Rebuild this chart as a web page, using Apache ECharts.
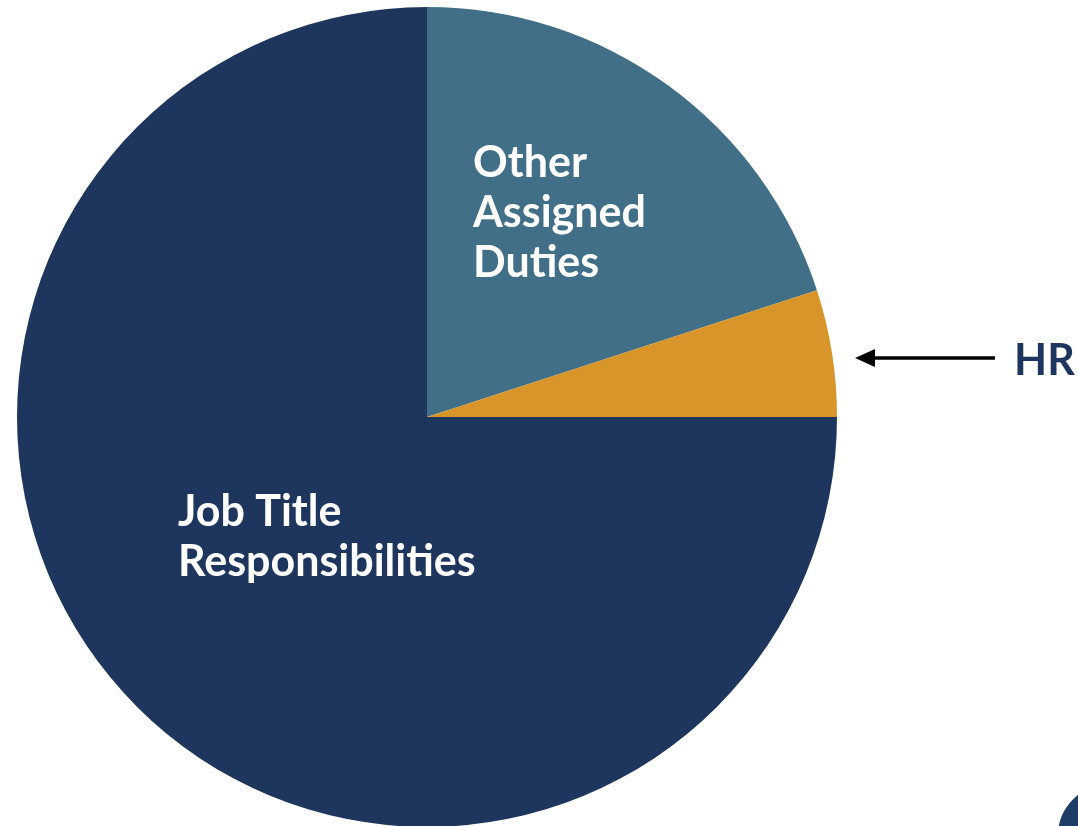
<!DOCTYPE html>
<html>
<head>
<meta charset="utf-8">
<script src="https://cdn.jsdelivr.net/npm/echarts@6/dist/echarts.min.js"></script>
<style>html,body{margin:0;padding:0;background:#fff}#c{width:1078px;height:826px}</style>
</head>
<body>
<div id="c"></div>
<script>
// Data (clockwise from 12 o'clock)
var categories = ['Other\nAssigned\nDuties', 'HR', 'Job Title\nResponsibilities'];
var values = [20, 5, 75];
var colors = ['#416f87', '#d8952a', '#1e365e'];

var chart = echarts.init(document.getElementById('c'));
var labelPos = {
  0: {x: 473, y: 213, align: 'left', verticalAlign: 'middle'},
  1: {x: 1014, y: 361, align: 'left', verticalAlign: 'middle'},
  2: {x: 178, y: 537, align: 'left', verticalAlign: 'middle'}
};
chart.setOption({
  animation: false,
  series: [{
    type: 'pie',
    center: [427, 417],
    radius: 410,
    startAngle: 90,
    clockwise: true,
    silent: true,
    label: {
      show: true,
      position: 'inside',
      color: '#ffffff',
      fontFamily: 'Lato',
      fontWeight: 'bold',
      fontSize: 43,
      lineHeight: 50,
      formatter: '{b}'
    },
    labelLine: {show: false},
    labelLayout: function (p) { return labelPos[p.dataIndex]; },
    data: categories.map(function (c, i) {
      var d = {name: c, value: values[i], itemStyle: {color: colors[i]}};
      if (i === 1) d.label = {color: '#1e365e'};
      return d;
    })
  }],
  graphic: [
    {type: 'line', shape: {x1: 868, y1: 358, x2: 995, y2: 358}, style: {stroke: '#000', lineWidth: 3.5}},
    {type: 'polygon', shape: {points: [[855, 358], [875, 349], [875, 367]]}, style: {fill: '#000'}},
    {type: 'circle', shape: {cx: 1108, cy: 835, r: 50}, style: {fill: '#1e3d66'}}
  ]
});
</script>
</body>
</html>
